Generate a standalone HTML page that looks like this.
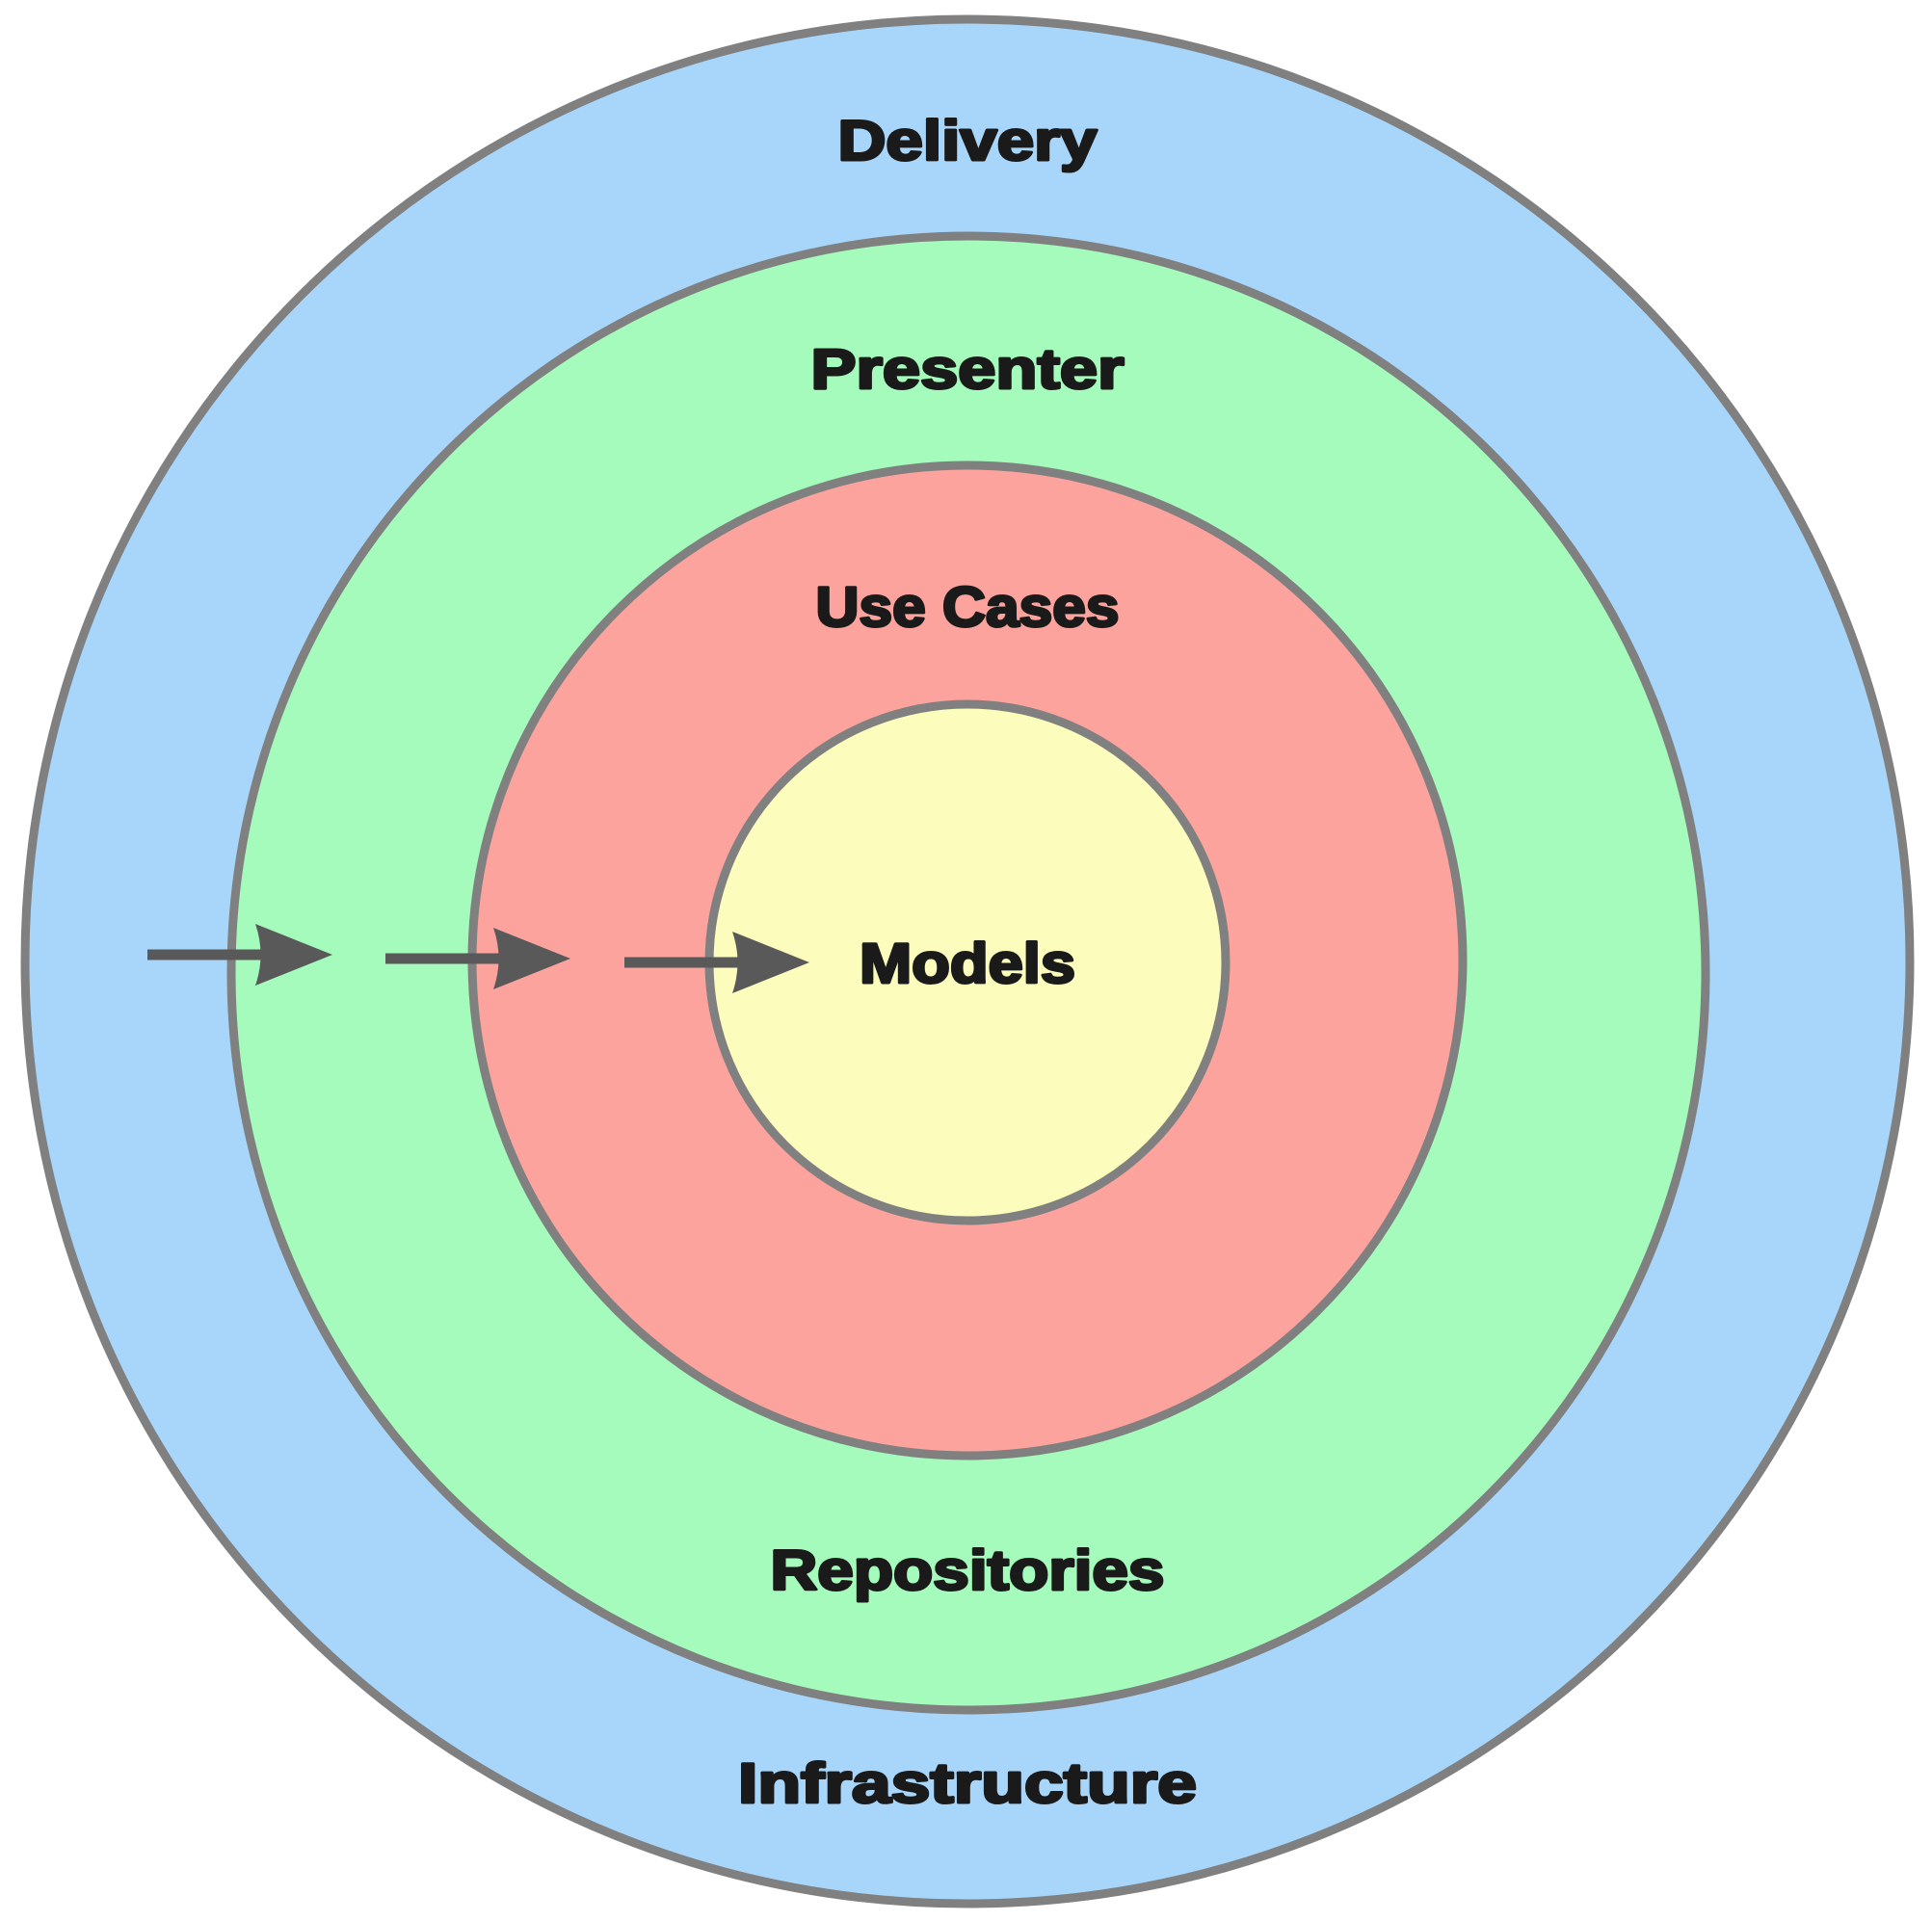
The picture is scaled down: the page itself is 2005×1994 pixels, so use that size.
<!DOCTYPE html>
<html><head><meta charset="utf-8"><style>html,body{margin:0;padding:0;background:#fff}svg{display:block}</style></head>
<body>
<svg width="2005" height="1994" viewBox="0 0 2005 1994" xmlns="http://www.w3.org/2000/svg">
<g stroke="#808080" stroke-width="9">
<circle cx="1004" cy="998" r="978" fill="#a8d6fb"/>
<circle cx="1005" cy="1010" r="765" fill="#a4fbbb"/>
<circle cx="1004" cy="997" r="514" fill="#fca39e"/>
<circle cx="1004" cy="999" r="268" fill="#fcfcbc"/>
</g>
<g fill="#595959" stroke="#595959">
<line x1="153" y1="991" x2="280" y2="991" stroke-width="11"/>
<path d="M265 959 L345 991 L265 1023 Q276 991 265 959Z" stroke="none"/>
<line x1="400" y1="995" x2="527" y2="995" stroke-width="11"/>
<path d="M512 963 L592 995 L512 1027 Q523 995 512 963Z" stroke="none"/>
<line x1="648" y1="999" x2="775" y2="999" stroke-width="11"/>
<path d="M760 967 L840 999 L760 1031 Q771 999 760 967Z" stroke="none"/>
</g>
<g font-family="Liberation Sans, sans-serif" font-weight="bold" font-size="58" fill="#1a1a1a" stroke="#1a1a1a" stroke-width="3" stroke-linejoin="round" text-anchor="middle">
<text x="1004" y="166" textLength="269" lengthAdjust="spacingAndGlyphs">Delivery</text>
<text x="1004" y="403" textLength="325" lengthAdjust="spacingAndGlyphs">Presenter</text>
<text x="1004" y="650" textLength="315" lengthAdjust="spacingAndGlyphs">Use Cases</text>
<text x="1004" y="1020" textLength="224" lengthAdjust="spacingAndGlyphs">Models</text>
<text x="1004" y="1650" textLength="409" lengthAdjust="spacingAndGlyphs">Repositories</text>
<text x="1004" y="1871" textLength="476" lengthAdjust="spacingAndGlyphs">Infrastructure</text>
</g>
</svg>
</body></html>
